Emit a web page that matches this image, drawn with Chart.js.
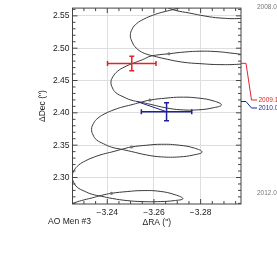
<!DOCTYPE html>
<html><head><meta charset="utf-8">
<script src="https://cdn.jsdelivr.net/npm/chart.js@4.4.0/dist/chart.umd.min.js"></script>
<style>html,body{margin:0;padding:0;background:#fff;overflow:hidden}canvas{display:block}</style>
</head><body>
<canvas id="c" width="277" height="269" style="width:277px;height:269px"></canvas>
<script>
// Predicted astrometric track (ΔRA, ΔDec in arcsec)
const trackRA = [
-3.25906,-3.25820,-3.25884,-3.26043,-3.26300,-3.26544,-3.26899,-3.27542,-3.28184,-3.28827,-3.29683,-3.30197,-3.30540,-3.30240,-3.29598,-3.28827,-3.28184,-3.27490,-3.27062,-3.26677,-3.26334,-3.25949,-3.25563,-3.25263,-3.25071,
-3.24989,-3.25054,-3.25186,-3.25400,-3.25657,-3.25957,-3.26471,-3.27242,-3.27970,-3.28827,-3.29683,-3.30026,-3.30197,-3.29897,-3.29255,-3.28613,-3.27970,-3.27328,-3.26643,-3.26171,-3.25829,-3.25503,-3.25118,-3.24732,-3.24433,-3.24240,
-3.24159,-3.24223,-3.24373,-3.24672,-3.25015,-3.25400,-3.25872,-3.26514,-3.27156,-3.27927,-3.28527,-3.28891,-3.28570,-3.27927,-3.27156,-3.26514,-3.25829,-3.25400,-3.25015,-3.24672,-3.24287,-3.23902,-3.23602,-3.23409,
-3.23328,-3.23392,-3.23542,-3.23842,-3.24184,-3.24570,-3.25041,-3.25683,-3.26326,-3.27096,-3.27696,-3.28060,-3.27739,-3.27096,-3.26326,-3.25683,-3.25037,-3.24570,-3.24184,-3.23842,-3.23456,-3.23071,-3.22771,-3.22578,
-3.22497,-3.22561,-3.22711,-3.23011,-3.23353,-3.23739,-3.24210,-3.24852,-3.25495,-3.26266,-3.26865,-3.27242,-3.26908,-3.26266,-3.25495,-3.24852,-3.24180,-3.23739,-3.23353,-3.23011,-3.22625,-3.22240,-3.21940,-3.21747,-3.21662];
const trackDec = [
2.60274,2.59373,2.58471,2.57675,2.56924,2.56368,2.55872,2.55421,2.54971,2.54670,2.54595,2.54895,2.55421,2.56097,2.56548,2.56698,2.56593,2.56593,2.56218,2.55842,2.55541,2.55091,2.54490,2.53814,2.52987,
2.51966,2.51064,2.50238,2.49562,2.49111,2.48811,2.48360,2.47834,2.47609,2.47459,2.47534,2.47759,2.48285,2.48886,2.49261,2.49487,2.49532,2.49412,2.49141,2.48961,2.48736,2.48210,2.47684,2.47083,2.46407,2.45581,
2.44754,2.43853,2.43102,2.42501,2.41975,2.41674,2.41299,2.40773,2.40472,2.40472,2.40773,2.41224,2.41825,2.42275,2.42425,2.42275,2.41975,2.41599,2.41224,2.40923,2.40472,2.39871,2.39195,2.38369,
2.37468,2.36566,2.35815,2.35214,2.34688,2.34388,2.34012,2.33486,2.33186,2.33186,2.33486,2.33937,2.34538,2.34989,2.35139,2.34989,2.34718,2.34313,2.33937,2.33636,2.33186,2.32585,2.31909,2.31082,
2.30151,2.29249,2.28498,2.27897,2.27401,2.27101,2.26755,2.26425,2.26275,2.26275,2.26425,2.26725,2.27326,2.27852,2.27972,2.27822,2.27552,2.27221,2.26846,2.26545,2.26124,2.25523,2.24847,2.24021,2.23090];

// yearly markers on the track
const yearDotRA  = [-3.26643,-3.25829,-3.25037,-3.24180];
const yearDotDec = [ 2.49141, 2.41975, 2.34718, 2.27552];

// measurements
const obsLabels = ['2009.1','2010.0'];
const obsRA     = [-3.2505,-3.2654];
const obsDec    = [ 2.4764, 2.4017];
const obsErrRA  = [ 0.0104, 0.0108];
const obsErrDec = [ 0.0113, 0.0138];
const predRA    = [-3.2510,-3.2527];
const predDec   = [ 2.4766, 2.4175];
const obsColors = ['#e3232b','#1f1f98'];

// epoch labels of track ends
const epochLabels = ['2008.0','2012.0'];
const epochDec    = [2.5640, 2.2755];

const xTicks = [-3.24,-3.26,-3.28];
const yTicks = [2.30,2.35,2.40,2.45,2.50,2.55];
const xRange = [-3.2973,-3.2251];
const yRange = [2.2590, 2.5620];
const starName = 'AO Men #3';

const FONT = 'Liberation Sans, Arial, sans-serif';
const fmtX = v => (v < 0 ? '\u2212' : '') + Math.abs(v).toFixed(2);

const deco = {
  id: 'deco',
  afterDatasetsDraw(chart) {
    const {ctx, scales: {x, y}} = chart;
    ctx.save();
    for (let i = 0; i < obsRA.length; i++) {
      const cx = x.getPixelForValue(obsRA[i]), cy = y.getPixelForValue(obsDec[i]);
      const x1 = x.getPixelForValue(obsRA[i] - obsErrRA[i]), x2 = x.getPixelForValue(obsRA[i] + obsErrRA[i]);
      const y1 = y.getPixelForValue(obsDec[i] - obsErrDec[i]), y2 = y.getPixelForValue(obsDec[i] + obsErrDec[i]);
      const c = 2.5;
      ctx.strokeStyle = obsColors[i]; ctx.lineWidth = 1.5;
      ctx.beginPath();
      ctx.moveTo(x1, cy); ctx.lineTo(x2, cy);
      ctx.moveTo(cx, y1); ctx.lineTo(cx, y2);
      ctx.moveTo(x1, cy - c); ctx.lineTo(x1, cy + c);
      ctx.moveTo(x2, cy - c); ctx.lineTo(x2, cy + c);
      ctx.moveTo(cx - c, y1); ctx.lineTo(cx + c, y1);
      ctx.moveTo(cx - c, y2); ctx.lineTo(cx + c, y2);
      ctx.stroke();
    }
    ctx.restore();
  },
  afterDraw(chart) {
    const {ctx, chartArea: a, scales: {x, y}} = chart;
    ctx.save();
    // frame
    ctx.strokeStyle = '#444'; ctx.lineWidth = 1;
    ctx.strokeRect(a.left, a.top, a.right - a.left, a.bottom - a.top);
    // inward ticks
    ctx.beginPath();
    const xs = 0.005, ys = 0.01;
    for (let k = Math.ceil(xRange[0] / xs - 1e-6); k * xs <= xRange[1] + 1e-9; k++) {
      const v = k * xs, px = x.getPixelForValue(v);
      const major = Math.abs(Math.round(v / 0.02) * 0.02 - v) < 1e-6;
      const L = major ? 5 : 3;
      ctx.moveTo(px, a.bottom); ctx.lineTo(px, a.bottom - L);
      ctx.moveTo(px, a.top); ctx.lineTo(px, a.top + L);
    }
    for (let k = Math.ceil(yRange[0] / ys - 1e-6); k * ys <= yRange[1] + 1e-9; k++) {
      const v = k * ys, py = y.getPixelForValue(v);
      const major = Math.abs(Math.round(v / 0.05) * 0.05 - v) < 1e-6;
      const L = major ? 5 : 3;
      ctx.moveTo(a.left, py); ctx.lineTo(a.left + L, py);
      ctx.moveTo(a.right, py); ctx.lineTo(a.right - L, py);
    }
    ctx.stroke();
    // leader lines + labels for measurements
    const labelY = [100, 108];
    ctx.font = '6.5px ' + FONT; ctx.textBaseline = 'middle'; ctx.textAlign = 'left';
    for (let i = 0; i < obsLabels.length; i++) {
      const sy = y.getPixelForValue(predDec[i]);
      ctx.strokeStyle = obsColors[i]; ctx.lineWidth = 1;
      ctx.beginPath();
      ctx.moveTo(a.right, sy); ctx.lineTo(a.right + 5, sy);
      ctx.lineTo(a.right + 10.5, labelY[i]); ctx.lineTo(a.right + 16, labelY[i]);
      ctx.stroke();
      ctx.fillStyle = obsColors[i];
      ctx.fillText(obsLabels[i], a.right + 17.5, labelY[i]);
    }
    ctx.fillStyle = '#777';
    for (let i = 0; i < epochLabels.length; i++) {
      ctx.fillText(epochLabels[i], a.right + 16, y.getPixelForValue(epochDec[i]));
    }
    // star name
    ctx.fillStyle = '#222'; ctx.font = '8.5px ' + FONT;
    ctx.fillText(starName, 48, 222);
    ctx.restore();
  }
};

new Chart(document.getElementById('c'), {
  type: 'scatter',
  data: {
    datasets: [
      { data: trackRA.map((v, i) => ({x: v, y: trackDec[i]})), showLine: true, borderColor: '#3a3a3a',
        borderWidth: 1, pointRadius: 0, tension: 0.45, clip: 0, order: 3 },
      { data: yearDotRA.map((v, i) => ({x: v, y: yearDotDec[i]})), showLine: false, pointRadius: 1.6,
        backgroundColor: '#777', borderWidth: 0, order: 2 },
      { data: [{x: predRA[1], y: predDec[1]}, {x: obsRA[1], y: obsDec[1]}], showLine: true,
        borderColor: obsColors[1], borderWidth: 1, pointRadius: 0, order: 1 }
    ]
  },
  options: {
    responsive: false, animation: false, devicePixelRatio: 1,
    layout: { padding: { left: 0, top: 2.3, right: 36, bottom: 0 } },
    elements: { line: { capBezierPoints: false } },
    plugins: { legend: { display: false }, tooltip: { enabled: false } },
    scales: {
      x: {
        type: 'linear', reverse: true, min: xRange[0], max: xRange[1],
        afterBuildTicks: s => { s.ticks = xTicks.map(v => ({value: v})); },
        afterFit: s => { s.height = 65; },
        grid: { color: '#dedede', lineWidth: 1, drawTicks: false },
        border: { display: false },
        ticks: { padding: 4, color: '#222', autoSkip: false, maxRotation: 0,
                 font: { family: FONT, size: 8.5 }, callback: v => fmtX(v) },
        title: { display: true, text: '\u0394RA (")', color: '#222',
                 font: { family: FONT, size: 8.5 }, padding: { top: 0, bottom: 41.6 } }
      },
      y: {
        type: 'linear', min: yRange[0], max: yRange[1],
        afterBuildTicks: s => { s.ticks = yTicks.map(v => ({value: v})); },
        afterFit: s => { s.width = 72.5; },
        grid: { color: '#dedede', lineWidth: 1, drawTicks: false },
        border: { display: false },
        ticks: { padding: 3, color: '#222', autoSkip: false,
                 font: { family: FONT, size: 8.5 }, callback: v => v.toFixed(2) },
        title: { display: true, text: '\u0394Dec (")', color: '#222',
                 font: { family: FONT, size: 8.5 }, padding: { top: 37.6, bottom: 0 } }
      }
    }
  },
  plugins: [deco]
});
</script>
</body></html>
